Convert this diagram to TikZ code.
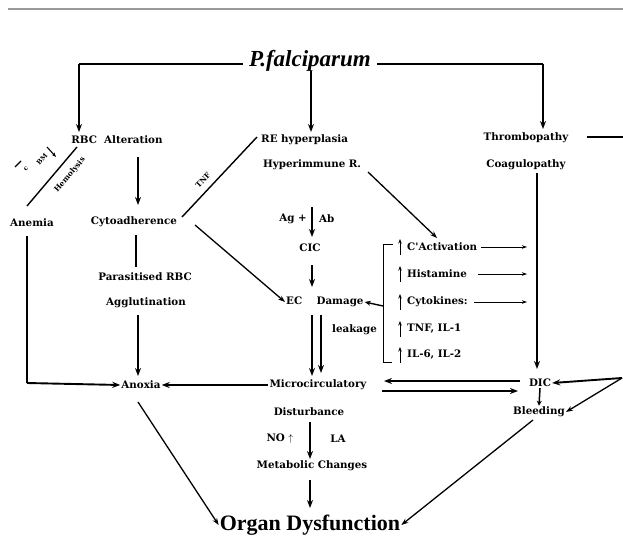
\documentclass[tikz,border=0pt]{standalone}
\usepackage{fontspec}
\setmainfont{Liberation Serif}
\newfontfamily\lblfont{DejaVu Serif}
\usetikzlibrary{arrows.meta}
\begin{document}
\begin{tikzpicture}[x=1pt,y=-1pt,
  lbl/.style={inner sep=1pt,font=\lblfont\fontsize{10.3}{12}\selectfont\bfseries},
  tiny/.style={inner sep=0pt,font=\lblfont\fontsize{7.5}{9}\selectfont\bfseries},
  big/.style={inner sep=1pt,font=\fontsize{22}{24}\selectfont\bfseries},
  arr/.style={line width=1.9pt,-{Stealth[length=8pt,width=6pt]}},
  thinarr/.style={line width=1.3pt,-{Stealth[length=7pt,width=5pt]}},
  hair/.style={line width=0.7pt,-{Stealth[length=5pt,width=3.5pt]}},
  plain/.style={line width=1.9pt}]
\useasboundingbox (0,0) rectangle (623,540);
% header rule
\draw[line width=1.4pt,gray!80] (8,9) -- (623,9);

% nodes
\node[big,font=\fontsize{23}{25}\selectfont\bfseries\itshape] (pf) at (310,61) {P.falciparum};
\node[lbl] (rbc) at (117,140) {RBC\ \ Alteration};
\node[lbl,anchor=west] (re) at (260,140) {RE hyperplasia};
\node[lbl,anchor=west] (hyp) at (262,165) {Hyperimmune R.};
\node[lbl] (thr) at (526,138) {Thrombopathy};
\node[lbl] (coa) at (526,165) {Coagulopathy};
\node[lbl] (ane) at (32,223) {Anemia};
\node[lbl] (cyt) at (134,222) {Cytoadherence};
\node[lbl] (par) at (145,277) {Parasitised RBC};
\node[lbl] (agg) at (146,303) {Agglutination};
\node[lbl,anchor=east] (ag) at (308,219) {Ag +};
\node[lbl,anchor=west] (ab) at (318,219) {Ab};
\node[lbl] (cic) at (310,248) {CIC};
\node[lbl,anchor=west] (ec) at (285,302) {EC\ \ \ \ Damage};
\node[lbl,anchor=west] (leak) at (331,330) {leakage};
\node[lbl] (anx) at (141,385) {Anoxia};
\node[lbl] (mic) at (318,385) {Microcirculatory};
\node[lbl] (dis) at (309,412) {Disturbance};
\node[lbl] (no) at (280,439) {NO $\uparrow$};
\node[lbl] (la) at (338,439) {LA};
\node[lbl] (met) at (312,466) {Metabolic Changes};
\node[big] (org) at (310,525) {Organ Dysfunction};
\node[lbl] (dic) at (540,383) {DIC};
\node[lbl] (ble) at (539,412) {Bleeding};
% mediators
\node[lbl,anchor=west] (cac) at (406,247) {C'Activation};
\node[lbl,anchor=west] (his) at (406,274) {Histamine};
\node[lbl,anchor=west] (cyk) at (406,302) {Cytokines:};
\node[lbl,anchor=west] (tnf) at (406,329) {TNF, IL-1};
\node[lbl,anchor=west] (il6) at (406,355) {IL-6, IL-2};

% P.falciparum branches
\coordinate (pfl) at (79,64);
\coordinate (pfr) at (543,64);
\coordinate (pfd) at (311,71);
\draw[plain] (243,64) -- (pfl);
\draw[arr] (pfl) -- (79,132);
\draw[plain] (377,64) -- (pfr);
\draw[arr] (pfr) -- (543,129);
\draw[arr] (pfd) -- (311,132);

% hemolysis and TNF branches
\coordinate (hl) at (27,206);
\draw[line width=1.4pt] (77,147) -- (hl);
\node[tiny,rotate=50] (hem) at (70,175) {Hemolysis};
\node[tiny,rotate=50,font=\lblfont\fontsize{6.5}{8}\selectfont\bfseries] (bm) at (42,159) {BM};
\draw[line width=1.1pt,-{Stealth[length=4.5pt,width=3.5pt]}] (47,147) -- (56,157);
\node[tiny,rotate=50,font=\lblfont\fontsize{6.5}{8}\selectfont\bfseries] (cc) at (26,169) {c};
\draw[line width=1.1pt] (15,167) -- (21,161);
\coordinate (tnfe) at (257,137);
\draw[line width=1.4pt] (182,217) -- (tnfe);
\node[tiny,rotate=47] (tnfl) at (203,180) {TNF};

% left column
\draw[arr] (138,157) -- (138,205);
\draw[plain] (136,235) -- (136,267);
\draw[arr] (138,315) -- (138,376);
\coordinate (anec) at (27,383);
\draw[plain] (27,236) -- (anec);
\draw[arr] (anec) -- (anx.west);
\draw[arr] (mic.west) -- (anx.east);

% middle column
\draw[arr] (312,207) -- (312,237);
\draw[arr] (312,265) -- (312,287);
\draw[thinarr] (195,225) -- (ec.west);
\draw[thinarr] (368,172) -- (437,238);
\draw[arr] (312,315) -- (312,376);
\draw[arr] (321,315) -- (321,373);
\draw[arr] (310,422) -- (310,459);
\draw[arr] (310,480) -- (310,508);

% mediator bracket
\draw[line width=0.8pt] (393,244) -- (383,244) -- (383,362) -- (392,362);
\draw[line width=1.4pt,-{Stealth[length=6pt,width=5pt]}] (383,306) -- (ec.east);
\foreach \n/\y in {cac/247,his/274,cyk/302,tnf/329,il6/355}
  \draw[line width=0.9pt,-{Stealth[length=4.5pt,width=3.5pt]}] (400,\y+8) -- (400,\y-8);
\draw[hair] (cac.east) ++(3,0) -- (527,247);
\draw[hair] (his.east) ++(10,0) -- (527,274);
\draw[hair] (cyk.east) ++(5,0) -- (527,302);

% right column
\draw[arr] (537,173) -- (537,369);
\draw[plain] (587,137) -- (623,137);
\draw[arr] (520,381) -- (384,381);
\draw[arr] (382,391) -- (518,391);
\draw[line width=1.5pt,-{Stealth[length=5pt,width=5pt]}] (dic.south) -- (ble.north);
\coordinate (rt) at (622,378);
\draw[arr] (rt) -- (dic.east);
\draw[thinarr] (rt) -- (ble.east);

% to organ dysfunction
\draw[thinarr] (138,402) -- (org.west);
\draw[thinarr] (533,420) -- (org.east);
\end{tikzpicture}
\end{document}
